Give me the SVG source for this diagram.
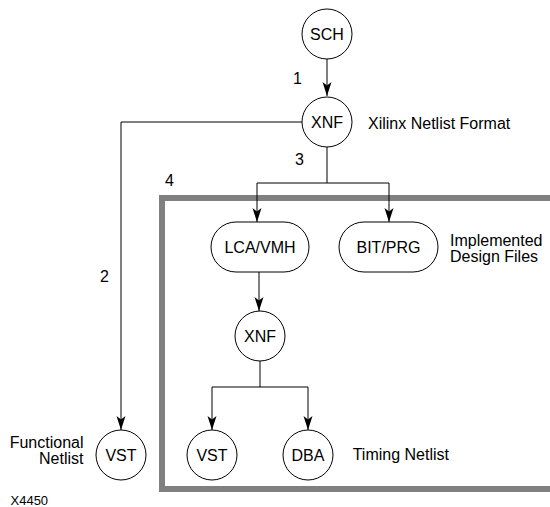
<svg xmlns="http://www.w3.org/2000/svg" width="550" height="507" viewBox="0 0 550 507">
  <defs>
    <marker id="arrow" viewBox="-15 -5 16 10" markerWidth="16" markerHeight="10" refX="0" refY="0" markerUnits="userSpaceOnUse" orient="auto">
      <path d="M0,0 L-14,-4.5 L-10.5,0 L-14,4.5 Z" fill="#000"/>
    </marker>
    <style>
      .node { fill: #fff; stroke: #000; stroke-width: 1; }
      .lbl { font-family: "Liberation Sans", Arial, Helvetica, sans-serif; font-size: 16px; fill: #000; }
      .mid { text-anchor: middle; }
      .end { text-anchor: end; }
      .wire { fill: none; stroke: #000; stroke-width: 1; }
      .frame { fill: none; stroke: #808080; stroke-width: 6; }
    </style>
  </defs>

  <rect width="550" height="507" fill="#fff"/>

  <!-- implemented-design boundary -->
  <path class="frame" d="M560,198 H162 V489 H560"/>

  <!-- connectors -->
  <g id="connectors">
    <path class="wire" d="M327,59 V96" marker-end="url(#arrow)"/>
    <path class="wire" d="M302,122 H121 V430" marker-end="url(#arrow)"/>
    <path class="wire" d="M327,147 V183 H257 V222" marker-end="url(#arrow)"/>
    <path class="wire" d="M327,183 H389 V222" marker-end="url(#arrow)"/>
    <path class="wire" d="M259,272 V311" marker-end="url(#arrow)"/>
    <path class="wire" d="M260,361 V387 H212 V430" marker-end="url(#arrow)"/>
    <path class="wire" d="M260,387 H308 V430" marker-end="url(#arrow)"/>
  </g>

  <!-- step numbers -->
  <g id="steps" class="lbl">
    <text x="293" y="84">1</text>
    <text x="100" y="282">2</text>
    <text x="295" y="165">3</text>
    <text x="165" y="186">4</text>
  </g>

  <g id="sch">
    <circle class="node" cx="327" cy="34" r="25"/>
    <text class="lbl mid" x="327" y="39.7">SCH</text>
  </g>

  <g id="xnf-top">
    <circle class="node" cx="327" cy="122" r="25"/>
    <text class="lbl mid" x="327" y="127.7">XNF</text>
    <text class="lbl" x="368" y="129">Xilinx Netlist Format</text>
  </g>

  <g id="vst-functional">
    <circle class="node" cx="121" cy="455" r="25"/>
    <text class="lbl mid" x="121" y="460.7">VST</text>
    <text class="lbl end" x="83.5" y="448">Functional</text>
    <text class="lbl end" x="83.5" y="464">Netlist</text>
  </g>

  <g id="lca-vmh">
    <rect class="node" x="211" y="222" width="98" height="50" rx="25" ry="25"/>
    <text class="lbl mid" x="260" y="252.7">LCA/VMH</text>
  </g>

  <g id="bit-prg">
    <rect class="node" x="339" y="222" width="99" height="50" rx="25" ry="25"/>
    <text class="lbl mid" x="388.5" y="252.7">BIT/PRG</text>
    <text class="lbl" x="450" y="246">Implemented</text>
    <text class="lbl" x="450" y="262">Design Files</text>
  </g>

  <g id="xnf-bottom">
    <circle class="node" cx="260" cy="336" r="25"/>
    <text class="lbl mid" x="260" y="341.7">XNF</text>
  </g>

  <g id="vst-timing">
    <circle class="node" cx="212" cy="455" r="25"/>
    <text class="lbl mid" x="212" y="460.7">VST</text>
  </g>

  <g id="dba">
    <circle class="node" cx="308" cy="455" r="25"/>
    <text class="lbl mid" x="308" y="460.7">DBA</text>
    <text class="lbl" x="352.7" y="460">Timing Netlist</text>
  </g>

  <text class="lbl" x="10.5" y="505" style="font-size:13px">X4450</text>
</svg>
